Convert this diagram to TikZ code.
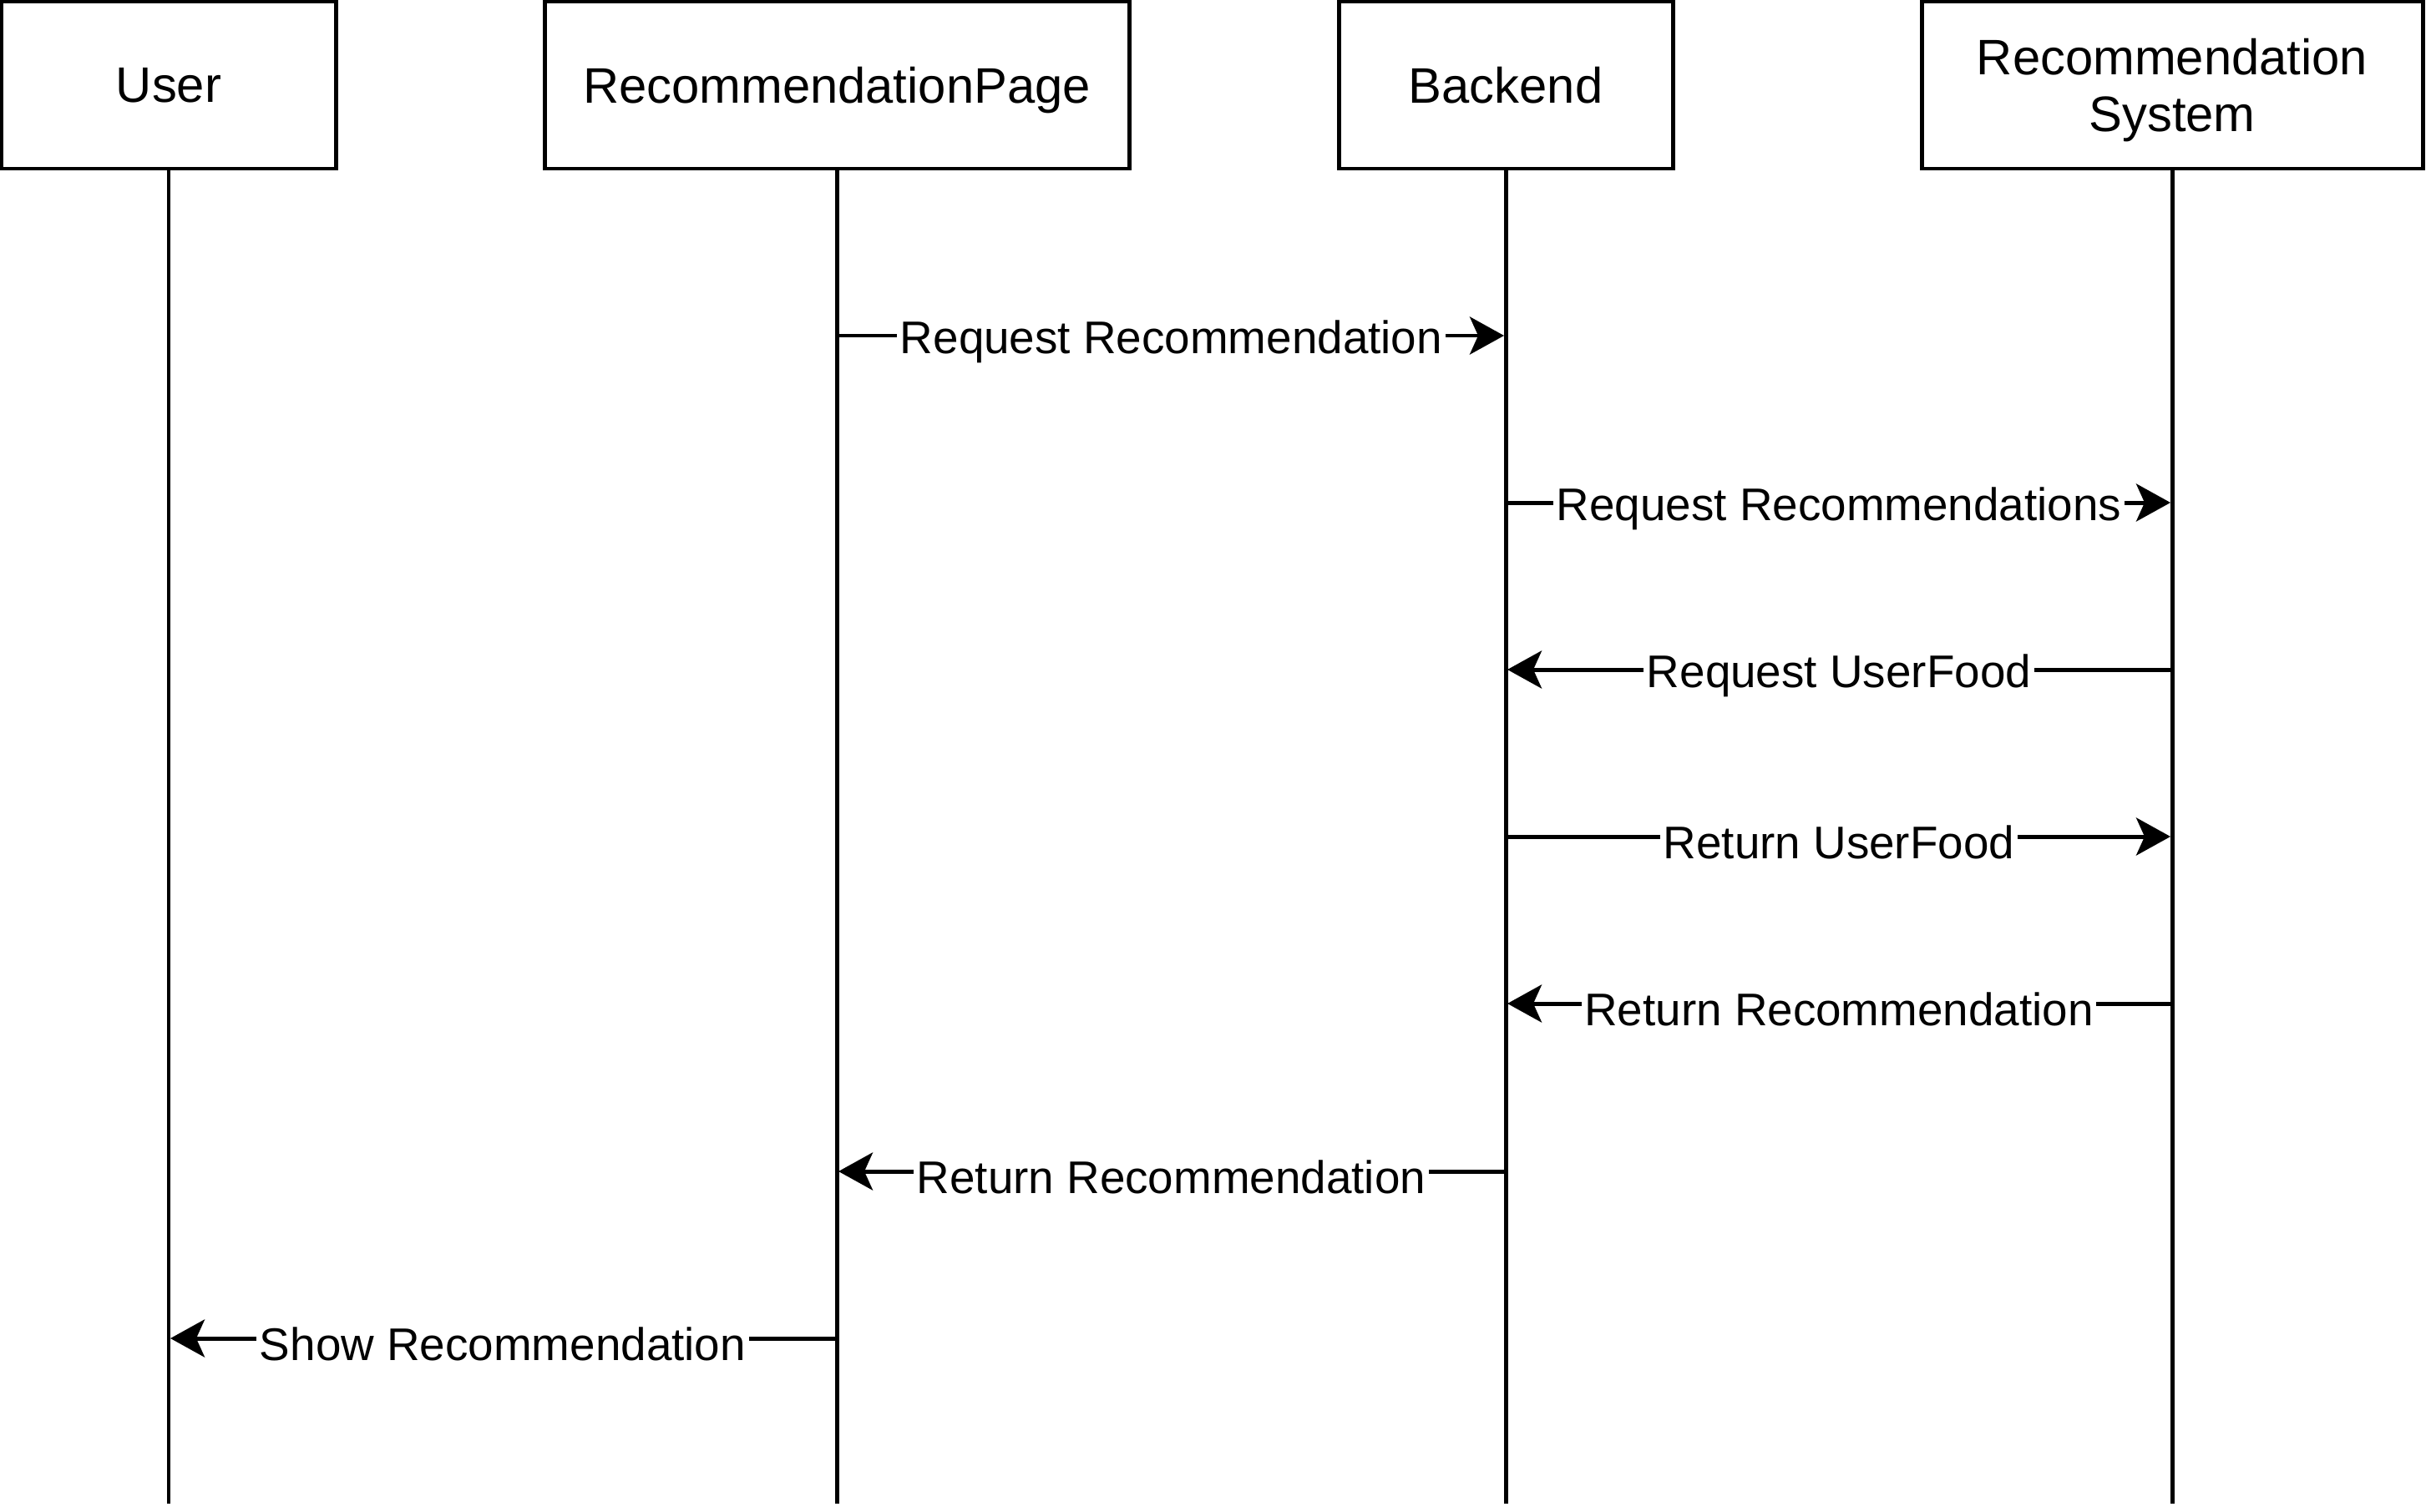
\documentclass[tikz,border=0pt]{standalone}
\usepackage{fontspec}
\setmainfont{Liberation Sans}
\usetikzlibrary{positioning, arrows.meta}

\begin{document}
\begin{tikzpicture}[
	actor/.style={draw, rectangle, line width=1.42pt, minimum width=4cm, minimum 
	height=2cm, align=center, text depth=0pt, font=\fontsize{17}{19.5}\selectfont},
	lifeline/.style={line width=1.42pt},
	msg/.style={line width=1.42pt, shorten >=0.02cm, 
	-{Stealth[length=0.41cm, width=0.45cm, inset=0.1cm]}},
	msglabel/.style={fill=white, inner sep=1pt, yshift=-0.07cm, font=\fontsize{15.6}{18}\selectfont}]
			
			\useasboundingbox (0,0) rectangle (29.05,-18.10);
			
			%Participants
			\node (user) at (2.02,-1.02) [actor]{User};
			\node (page) at (10.02,-1.02) [actor, minimum width=7cm]{RecommendationPage};
			\node (backend) at (18.03,-1.02) [actor]{Backend};
			\node (recsys) at (26.01,-1.02) [actor, minimum width=6cm]{Recommendation\\ System};
			
			%Lifelines
			\coordinate (bottom) at (0,-18.01);
			\draw[lifeline] (user) -- (user |- bottom);
			\draw[lifeline] (page) -- (page |- bottom);
			\draw[lifeline] (backend) -- (backend |- bottom);
			\draw[lifeline] (recsys) -- (recsys |- bottom);
			
			%Message rows
			\coordinate (m1) at (0,-4.02);
			\coordinate (m2) at (0,-6.02);
			\coordinate (m3) at (0,-8.02);
			\coordinate (m4) at (0,-10.02);
			\coordinate (m5) at (0,-12.02);
			\coordinate (m6) at (0,-14.03);
			\coordinate (m7) at (0,-16.03);
			
			%Links
			\draw[msg] (page |- m1) -- node[msglabel]{Request Recommendation} (backend |- m1);
			\draw[msg] (backend |- m2) -- node[msglabel]{Request Recommendations} (recsys |- m2);
			\draw[msg] (recsys |- m3) -- node[msglabel]{Request UserFood} (backend |- m3);
			\draw[msg] (backend |- m4) -- node[msglabel]{Return UserFood} (recsys |- m4);
			\draw[msg] (recsys |- m5) -- node[msglabel]{Return Recommendation} (backend |- m5);
			\draw[msg] (backend |- m6) -- node[msglabel]{Return Recommendation} (page |- m6);
			\draw[msg] (page |- m7) -- node[msglabel]{Show Recommendation} (user |- m7);
			
\end{tikzpicture}
\end{document}
